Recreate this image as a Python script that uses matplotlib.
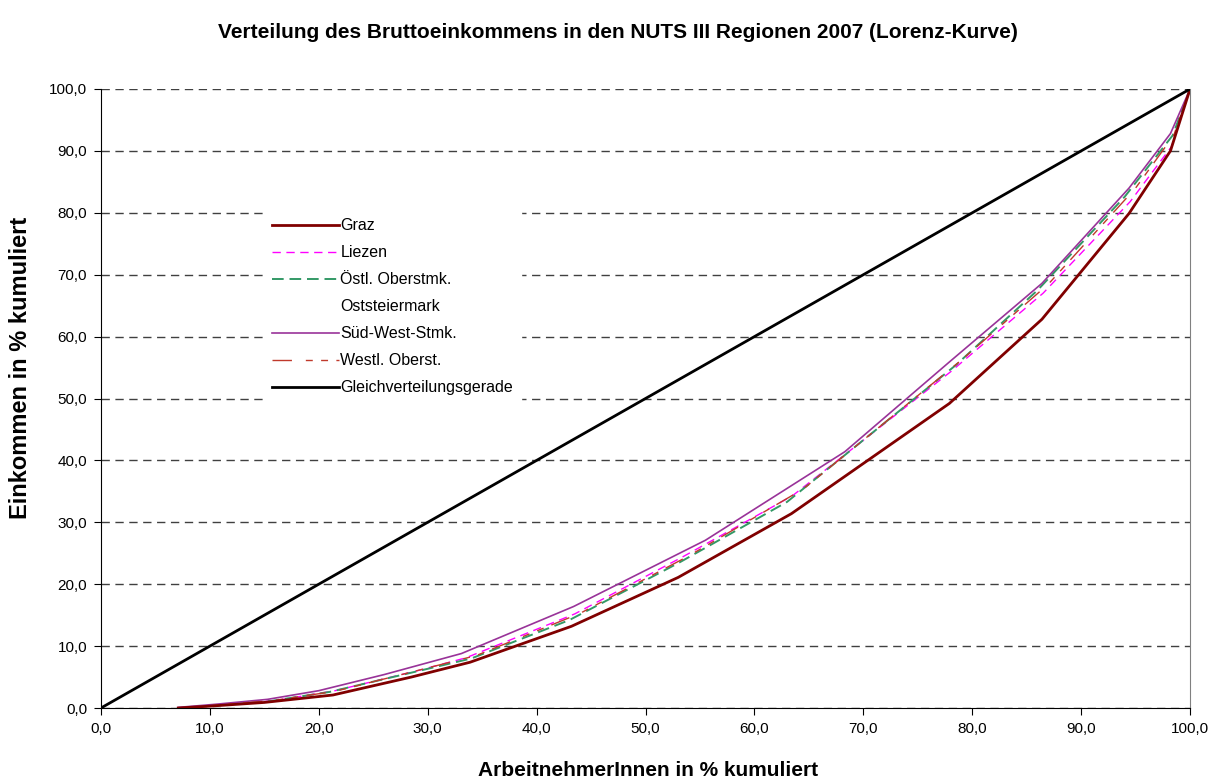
import matplotlib.pyplot as plt
from matplotlib.ticker import FuncFormatter

plt.rcParams['font.family'] = ['Liberation Sans', 'DejaVu Sans']

# Lorenz curve data (cumulated %)
graz_x = [7.1, 10.0, 15.0, 21.3, 28.5, 33.9, 43.2, 53.0, 63.4, 77.9, 86.4, 94.4, 98.2, 100.0]
graz_y = [0.0, 0.3, 0.9, 2.1, 5.0, 7.4, 13.2, 21.1, 31.4, 49.2, 62.8, 79.9, 90.0, 100.0]

liezen_x = [7.5, 11.0, 16.0, 21.5, 29.0, 33.5, 43.5, 53.5, 63.5, 78.0, 86.5, 94.5, 98.3, 100.0]
liezen_y = [0.0, 0.5, 1.2, 2.8, 6.0, 8.1, 15.2, 24.5, 34.3, 54.3, 67.0, 81.8, 90.7, 100.0]

oestl_x = [7.3, 10.5, 15.5, 21.0, 28.0, 34.0, 43.0, 53.0, 63.0, 78.5, 86.0, 94.0, 98.4, 100.0]
oestl_y = [0.0, 0.4, 1.1, 2.6, 5.5, 8.0, 14.2, 23.4, 33.3, 55.4, 67.5, 82.6, 92.5, 100.0]

oststmk_x = [7.0, 100.0]
oststmk_y = [0.0, 100.0]

suedwest_x = [7.1, 10.5, 15.3, 20.0, 26.0, 33.1, 43.4, 55.5, 68.3, 77.9, 86.4, 94.4, 98.2, 100.0]
suedwest_y = [0.1, 0.6, 1.4, 2.8, 5.4, 8.8, 16.4, 27.1, 41.4, 55.9, 68.6, 84.0, 92.8, 100.0]

westl_x = [7.2, 10.8, 15.8, 21.5, 28.5, 34.5, 44.0, 54.0, 64.5, 79.0, 87.0, 95.0, 98.5, 100.0]
westl_y = [0.0, 0.5, 1.2, 2.7, 5.8, 8.5, 15.3, 24.6, 35.4, 56.2, 68.5, 84.0, 92.5, 100.0]

equal_x = [0.0, 100.0]
equal_y = [0.0, 100.0]

fig = plt.figure(figsize=(12.12, 7.8), dpi=100)
ax = fig.add_axes([0.0833, 0.0923, 0.8986, 0.7936])

ax.plot(graz_x, graz_y, color='#800000', lw=2.0, label='Graz', zorder=5)
ax.plot(liezen_x, liezen_y, color='#FF00FF', lw=1, ls=(0, (6, 4)), label='Liezen', zorder=4)
ax.plot(oestl_x, oestl_y, color='#339966', lw=1.4, ls=(0, (6, 3)), label='Östl. Oberstmk.', zorder=4)
ax.plot(oststmk_x, oststmk_y, ls='None', label='Oststeiermark')
ax.plot(suedwest_x, suedwest_y, color='#993399', lw=1.2, label='Süd-West-Stmk.', zorder=4)
ax.plot(westl_x, westl_y, color='#C0392B', lw=1, ls=(0, (14, 10, 5, 6, 5, 6)), label='Westl. Oberst.', zorder=4)
ax.plot(equal_x, equal_y, color='black', lw=2.0, label='Gleichverteilungsgerade', zorder=6)

ax.set_xlim(0, 100)
ax.set_ylim(0, 100)
ax.set_xticks(range(0, 101, 10))
ax.set_yticks(range(0, 101, 10))
fmt = FuncFormatter(lambda v, p: ('%.1f' % v).replace('.', ','))
ax.xaxis.set_major_formatter(fmt)
ax.yaxis.set_major_formatter(fmt)
ax.tick_params(labelsize=11, length=5, direction='out', colors='black', pad=5)

ax.yaxis.grid(True, ls=(0, (6, 4)), color='#404040', lw=1)
ax.set_axisbelow(True)
ax.spines['top'].set_visible(False)
ax.spines['right'].set_color('#808080')

fig.text(0.51, 1 - 32 / 780, 'Verteilung des Bruttoeinkommens in den NUTS III Regionen 2007 (Lorenz-Kurve)',
         fontsize=15, fontweight='bold', ha='center', va='center')
fig.text(0.535, 1 - 770 / 780, 'ArbeitnehmerInnen in % kumuliert',
         fontsize=15, fontweight='bold', ha='center', va='center')
fig.text(21 / 1212, 1 - 368 / 780, 'Einkommen in % kumuliert',
         fontsize=17, fontweight='bold', ha='center', va='center', rotation=90)

leg = ax.legend(loc='upper left', bbox_to_anchor=(0.142, 0.817), fontsize=11.5,
                frameon=True, facecolor='white', edgecolor='white', framealpha=1,
                handlelength=4.25, handletextpad=0.05, labelspacing=0.75, borderpad=0.5)

plt.savefig('out.png', dpi=100)
